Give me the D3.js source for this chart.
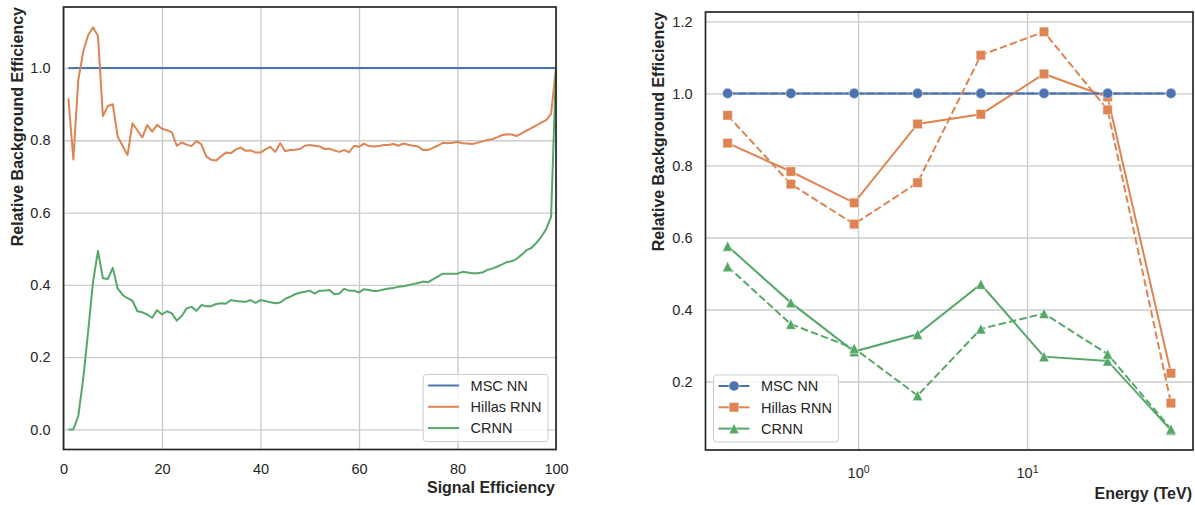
<!DOCTYPE html>
<html>
<head>
<meta charset="utf-8">
<script src="https://cdn.jsdelivr.net/npm/d3@7"></script>
<style>
  body { margin: 0; background: #fff; }
  svg text { font-family: "Liberation Sans", Arial, sans-serif; fill: #262626; }
</style>
</head>
<body>
<div id="chart"></div>
<script>
// ---- data: left panel (background efficiency vs signal efficiency) ----
const signalEff = [
  1, 2, 3, 4, 5, 6, 7, 8, 9, 10,
  11, 12, 13, 14, 15, 16, 17, 18, 19, 20,
  21, 22, 23, 24, 25, 26, 27, 28, 29, 30,
  31, 32, 33, 34, 35, 36, 37, 38, 39, 40,
  41, 42, 43, 44, 45, 46, 47, 48, 49, 50,
  51, 52, 53, 54, 55, 56, 57, 58, 59, 60,
  61, 62, 63, 64, 65, 66, 67, 68, 69, 70,
  71, 72, 73, 74, 75, 76, 77, 78, 79, 80,
  81, 82, 83, 84, 85, 86, 87, 88, 89, 90,
  91, 92, 93, 94, 95, 96, 97, 98, 99, 100,
];
const mscCurve = [
  1, 1, 1, 1, 1, 1, 1, 1, 1, 1,
  1, 1, 1, 1, 1, 1, 1, 1, 1, 1,
  1, 1, 1, 1, 1, 1, 1, 1, 1, 1,
  1, 1, 1, 1, 1, 1, 1, 1, 1, 1,
  1, 1, 1, 1, 1, 1, 1, 1, 1, 1,
  1, 1, 1, 1, 1, 1, 1, 1, 1, 1,
  1, 1, 1, 1, 1, 1, 1, 1, 1, 1,
  1, 1, 1, 1, 1, 1, 1, 1, 1, 1,
  1, 1, 1, 1, 1, 1, 1, 1, 1, 1,
  1, 1, 1, 1, 1, 1, 1, 1, 1, 1,
];
const hillasCurve = [
  0.916, 0.747, 0.967, 1.045, 1.091, 1.113, 1.089, 0.867, 0.895, 0.900,
  0.810, 0.785, 0.759, 0.847, 0.828, 0.808, 0.842, 0.824, 0.843, 0.832,
  0.828, 0.822, 0.785, 0.794, 0.788, 0.784, 0.798, 0.789, 0.755, 0.746,
  0.744, 0.756, 0.766, 0.764, 0.775, 0.780, 0.771, 0.772, 0.766, 0.766,
  0.775, 0.782, 0.768, 0.792, 0.770, 0.773, 0.774, 0.776, 0.785, 0.787,
  0.785, 0.783, 0.776, 0.777, 0.772, 0.768, 0.773, 0.767, 0.785, 0.782,
  0.791, 0.784, 0.783, 0.784, 0.787, 0.787, 0.790, 0.785, 0.791, 0.788,
  0.785, 0.783, 0.773, 0.773, 0.779, 0.785, 0.793, 0.792, 0.793, 0.796,
  0.792, 0.791, 0.790, 0.793, 0.797, 0.801, 0.803, 0.808, 0.814, 0.817,
  0.816, 0.812, 0.819, 0.827, 0.834, 0.841, 0.849, 0.856, 0.873, 1.0,
];
const crnnCurve = [
  0.0, 0.0, 0.037, 0.14, 0.27, 0.409, 0.494, 0.418, 0.416, 0.447,
  0.390, 0.372, 0.363, 0.356, 0.327, 0.324, 0.318, 0.309, 0.330, 0.318,
  0.327, 0.321, 0.301, 0.314, 0.335, 0.339, 0.328, 0.344, 0.341, 0.341,
  0.347, 0.349, 0.348, 0.358, 0.355, 0.354, 0.353, 0.358, 0.350, 0.358,
  0.355, 0.352, 0.349, 0.351, 0.361, 0.367, 0.374, 0.378, 0.381, 0.384,
  0.376, 0.384, 0.384, 0.386, 0.374, 0.376, 0.389, 0.384, 0.384, 0.379,
  0.388, 0.386, 0.383, 0.384, 0.387, 0.390, 0.391, 0.395, 0.396, 0.399,
  0.402, 0.405, 0.409, 0.407, 0.415, 0.423, 0.431, 0.431, 0.431, 0.431,
  0.436, 0.434, 0.432, 0.432, 0.434, 0.441, 0.445, 0.450, 0.456, 0.463,
  0.465, 0.472, 0.483, 0.496, 0.502, 0.516, 0.533, 0.554, 0.588, 1.0,
];

// ---- data: right panel (per energy bin, solid and dashed runs) ----
const energy = [0.169, 0.400, 0.948, 2.25, 5.33, 12.6, 30.0, 71.1];
const mscSolid = [1, 1, 1, 1, 1, 1, 1, 1];
const mscDashed = [1, 1, 1, 1, 1, 1, 1, 1];
const hillasSolid = [0.862, 0.783, 0.696, 0.915, 0.942, 1.054, 0.990, 0.223];
const hillasDashed = [0.939, 0.748, 0.637, 0.752, 1.106, 1.171, 0.954, 0.140];
const crnnSolid = [0.576, 0.419, 0.283, 0.331, 0.470, 0.269, 0.257, 0.065];
const crnnDashed = [0.519, 0.359, 0.292, 0.161, 0.346, 0.389, 0.276, 0.068];

const seriesNames = ["MSC NN", "Hillas RNN", "CRNN"];
const leftXTicks = [0, 20, 40, 60, 80, 100];
const leftYTicks = [0.0, 0.2, 0.4, 0.6, 0.8, 1.0];
const rightXTicks = [1, 10];
const rightYTicks = [0.2, 0.4, 0.6, 0.8, 1.0, 1.2];

// seaborn "deep" palette
const palette = ["#4C72B0", "#DD8452", "#55A868"];
const FONT = '"Liberation Sans", Arial, sans-serif';
const INK = "#262626";
const DASH = "7.5,3.2";

// custom upward triangle centred on its box (like matplotlib "^")
const symbolTriangleUp = {
  draw(ctx, size) {
    const s = Math.sqrt(size) / 2;
    ctx.moveTo(0, -s);
    ctx.lineTo(-s, s);
    ctx.lineTo(s, s);
    ctx.closePath();
  },
};
const markerTypes = [d3.symbolCircle, d3.symbolSquare, symbolTriangleUp];
const markerSizes = [80, 90, 105];

const svg = d3
  .select("#chart")
  .append("svg")
  .attr("width", 1195)
  .attr("height", 505);

// panel boxes
const left = { x0: 63.5, x1: 556, y0: 7, y1: 449.5 };
const right = { x0: 705.5, x1: 1193, y0: 12, y1: 450 };

const styleAxis = (g) => {
  g.select(".domain").remove();
  g.selectAll(".tick line").attr("stroke", "#cccccc").attr("stroke-width", 1.4);
  g.selectAll(".tick text")
    .attr("fill", INK)
    .attr("font-size", "14.5px")
    .attr("font-family", FONT);
};

const drawFrame = (p) => {
  svg
    .append("rect")
    .attr("x", p.x0)
    .attr("y", p.y0)
    .attr("width", p.x1 - p.x0)
    .attr("height", p.y1 - p.y0)
    .attr("fill", "none")
    .attr("stroke", INK)
    .attr("stroke-width", 1.7);
};

const drawLegend = (x, y, anchorRight, withMarkers) => {
  const g = svg.append("g");
  const box = g
    .append("rect")
    .attr("rx", 3)
    .attr("fill", "white")
    .attr("fill-opacity", 0.8)
    .attr("stroke", "#cccccc")
    .attr("stroke-width", 1);
  let maxW = 0;
  seriesNames.forEach((name, i) => {
    const ry = 11 + i * 21.3;
    g.append("line")
      .attr("x1", 5)
      .attr("x2", 36)
      .attr("y1", ry)
      .attr("y2", ry)
      .attr("stroke", palette[i])
      .attr("stroke-width", 2);
    if (withMarkers) {
      g.append("path")
        .attr("transform", `translate(20.5,${ry})`)
        .attr("d", d3.symbol().type(markerTypes[i]).size(markerSizes[i])())
        .attr("fill", palette[i])
        .attr("stroke", "white")
        .attr("stroke-width", 0.5);
    }
    const t = g
      .append("text")
      .attr("x", 47.5)
      .attr("y", ry)
      .attr("dy", "0.36em")
      .attr("font-size", "14.5px")
      .text(name);
    maxW = Math.max(maxW, t.node().getComputedTextLength());
  });
  const w = 47.5 + maxW + 6.5;
  const h = 67;
  box.attr("width", w).attr("height", h);
  const gx = anchorRight ? x - w : x;
  g.attr("transform", `translate(${gx},${y - h})`);
};

// ================= left panel =================
const xL = d3.scaleLinear().domain([0, 100]).range([left.x0, left.x1]);
const yL = d3.scaleLinear().domain([-0.0557, 1.169]).range([left.y1, left.y0]);

svg
  .append("g")
  .attr("transform", `translate(0,${left.y1})`)
  .call(
    d3.axisBottom(xL)
      .tickValues(leftXTicks)
      .tickSize(-(left.y1 - left.y0))
      .tickPadding(14)
      .tickFormat(d3.format("d"))
  )
  .call(styleAxis);

svg
  .append("g")
  .attr("transform", `translate(${left.x0},0)`)
  .call(
    d3.axisLeft(yL)
      .tickValues(leftYTicks)
      .tickSize(-(left.x1 - left.x0))
      .tickPadding(13)
      .tickFormat(d3.format(".1f"))
  )
  .call(styleAxis);

const lineL = d3
  .line()
  .x((d) => xL(d[0]))
  .y((d) => yL(d[1]));

[mscCurve, hillasCurve, crnnCurve].forEach((vals, i) => {
  svg
    .append("path")
    .attr("d", lineL(d3.zip(signalEff, vals)))
    .attr("fill", "none")
    .attr("stroke", palette[i])
    .attr("stroke-width", 2)
    .attr("stroke-linejoin", "round");
});

drawFrame(left);

svg
  .append("text")
  .attr("transform", `translate(22.5,${left.y0}) rotate(-90)`)
  .attr("text-anchor", "end")
  .attr("font-size", "16px")
  .attr("font-weight", "bold")
  .text("Relative Background Efficiency");

svg
  .append("text")
  .attr("x", left.x1 - 1)
  .attr("y", 492.5)
  .attr("text-anchor", "end")
  .attr("font-size", "16px")
  .attr("font-weight", "bold")
  .text("Signal Efficiency");

drawLegend(left.x1 - 8, left.y1 - 8, true, false);

// ================= right panel =================
const xR = d3.scaleLog().domain([0.125, 96]).range([right.x0, right.x1]);
const yR = d3.scaleLinear().domain([0.0097, 1.226]).range([right.y1, right.y0]);

const xAxisR = svg
  .append("g")
  .attr("transform", `translate(0,${right.y1})`)
  .call(
    d3.axisBottom(xR)
      .tickValues(rightXTicks)
      .tickSize(-(right.y1 - right.y0))
      .tickPadding(18)
      .tickFormat(() => "")
  )
  .call(styleAxis);

// 10^n tick labels
xAxisR.selectAll(".tick text").each(function (d) {
  const t = d3.select(this);
  t.append("tspan").text("10");
  t.append("tspan")
    .attr("dy", "-0.55em")
    .attr("font-size", "10.5px")
    .text(Math.round(Math.log10(d)));
});

svg
  .append("g")
  .attr("transform", `translate(${right.x0},0)`)
  .call(
    d3.axisLeft(yR)
      .tickValues(rightYTicks)
      .tickSize(-(right.x1 - right.x0))
      .tickPadding(13)
      .tickFormat(d3.format(".1f"))
  )
  .call(styleAxis);

const lineR = d3
  .line()
  .x((d) => xR(d[0]))
  .y((d) => yR(d[1]));

// solid runs first, then dashed runs
const rightSeries = [
  { vals: mscSolid, i: 0, dashed: false },
  { vals: hillasSolid, i: 1, dashed: false },
  { vals: crnnSolid, i: 2, dashed: false },
  { vals: mscDashed, i: 0, dashed: true },
  { vals: hillasDashed, i: 1, dashed: true },
  { vals: crnnDashed, i: 2, dashed: true },
];

rightSeries.forEach((s) => {
  const pts = d3.zip(energy, s.vals);
  svg
    .append("path")
    .attr("d", lineR(pts))
    .attr("fill", "none")
    .attr("stroke", palette[s.i])
    .attr("stroke-width", 2)
    .attr("stroke-dasharray", s.dashed ? DASH : null);
  svg
    .append("g")
    .selectAll("path")
    .data(pts)
    .join("path")
    .attr("transform", (d) => `translate(${xR(d[0])},${yR(d[1])})`)
    .attr("d", d3.symbol().type(markerTypes[s.i]).size(markerSizes[s.i])())
    .attr("fill", palette[s.i])
    .attr("stroke", "white")
    .attr("stroke-width", 0.5);
});

drawFrame(right);

svg
  .append("text")
  .attr("transform", `translate(664,${right.y0}) rotate(-90)`)
  .attr("text-anchor", "end")
  .attr("font-size", "16px")
  .attr("font-weight", "bold")
  .text("Relative Background Efficiency");

svg
  .append("text")
  .attr("x", right.x1 - 1)
  .attr("y", 498.5)
  .attr("text-anchor", "end")
  .attr("font-size", "16px")
  .attr("font-weight", "bold")
  .text("Energy (TeV)");

drawLegend(right.x0 + 8, right.y1 - 8, false, true);
</script>
</body>
</html>
